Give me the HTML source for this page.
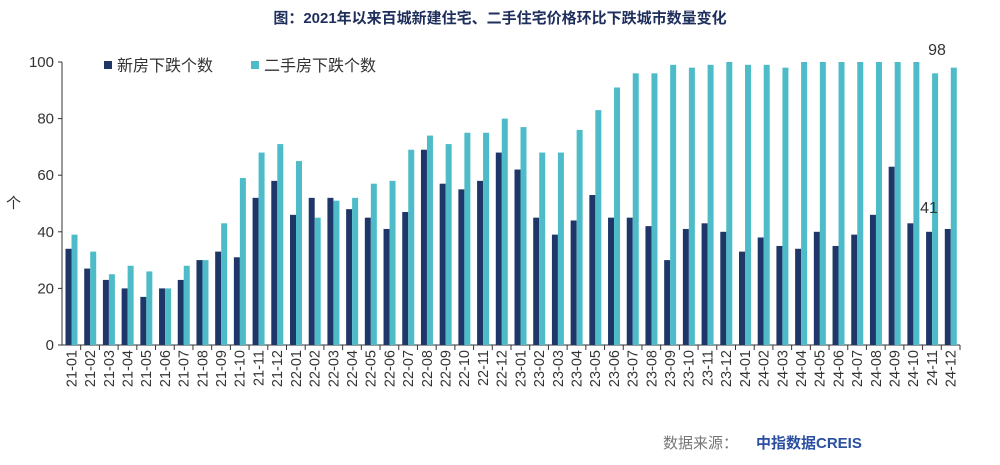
<!DOCTYPE html>
<html><head><meta charset="utf-8"><style>
body{margin:0;background:#fff;}
svg{display:block;font-family:"Liberation Sans","Noto Sans CJK SC",sans-serif;}
</style></head><body>
<svg width="1000" height="465" viewBox="0 0 1000 465" xmlns="http://www.w3.org/2000/svg">
<text x="500" y="23" text-anchor="middle" font-size="15" font-weight="bold" fill="#1f2f5c">图：2021年以来百城新建住宅、二手住宅价格环比下跌城市数量变化</text>
<g id="g"></g>
<text x="663" y="448" font-size="15" fill="#777">数据来源：</text>
<text x="756" y="448" font-size="15" font-weight="bold" fill="#2b4fa0">中指数据CREIS</text>
</svg>
<script>
const n=[34,27,23,20,17,20,23,30,33,31,52,58,46,52,52,48,45,41,47,69,57,55,58,68,62,45,39,44,53,45,45,42,30,41,43,40,33,38,35,34,40,35,39,46,63,43,40,41];
const s=[39,33,25,28,26,20,28,30,43,59,68,71,65,45,51,52,57,58,69,74,71,75,75,80,77,68,68,76,83,91,96,96,99,98,99,100,99,99,98,100,100,100,100,100,100,100,96,98];
const x0=62,x1=960,y0=345,k=2.83,st=(x1-x0)/48;
let h='';
h+=`<line x1="${x0}" y1="62" x2="${x0}" y2="${y0}" stroke="#333"/><line x1="${x0}" y1="${y0}" x2="${x1}" y2="${y0}" stroke="#333"/>`;
for(let v=0;v<=100;v+=20){const y=y0-v*k;h+=`<line x1="${x0-4}" y1="${y}" x2="${x0}" y2="${y}" stroke="#333"/><text x="${x0-8}" y="${y+5}" text-anchor="end" font-size="15" fill="#333">${v}</text>`;}
h+=`<text x="6" y="208" font-size="15" fill="#333">个</text>`;
for(let i=0;i<48;i++){
 const cx=x0+i*st;
 h+=`<line x1="${cx+st}" y1="${y0}" x2="${cx+st}" y2="${y0+5}" stroke="#333"/>`;
 h+=`<rect x="${cx+3.5}" y="${y0-n[i]*k}" width="6" height="${n[i]*k}" fill="#1f3768"/>`;
 h+=`<rect x="${cx+9.5}" y="${y0-s[i]*k}" width="6" height="${s[i]*k}" fill="#4ebcc8"/>`;
 const yr=21+Math.floor(i/12),m=String(i%12+1).padStart(2,'0');
 h+=`<text transform="translate(${cx+st/2+5},350) rotate(-90)" text-anchor="end" font-size="14.5" fill="#333">${yr}-${m}</text>`;
}
h+=`<text x="937" y="55" text-anchor="middle" font-size="16" fill="#333">98</text><text x="929" y="213" text-anchor="middle" font-size="16" fill="#333">41</text>`;
h+=`<rect x="104" y="61" width="8" height="8" fill="#1f3768"/><text x="117" y="71" font-size="16" fill="#333">新房下跌个数</text>`;
h+=`<rect x="251" y="61" width="8" height="8" fill="#4ebcc8"/><text x="264" y="71" font-size="16" fill="#333">二手房下跌个数</text>`;
document.getElementById('g').innerHTML=h;
</script>
</body></html>
